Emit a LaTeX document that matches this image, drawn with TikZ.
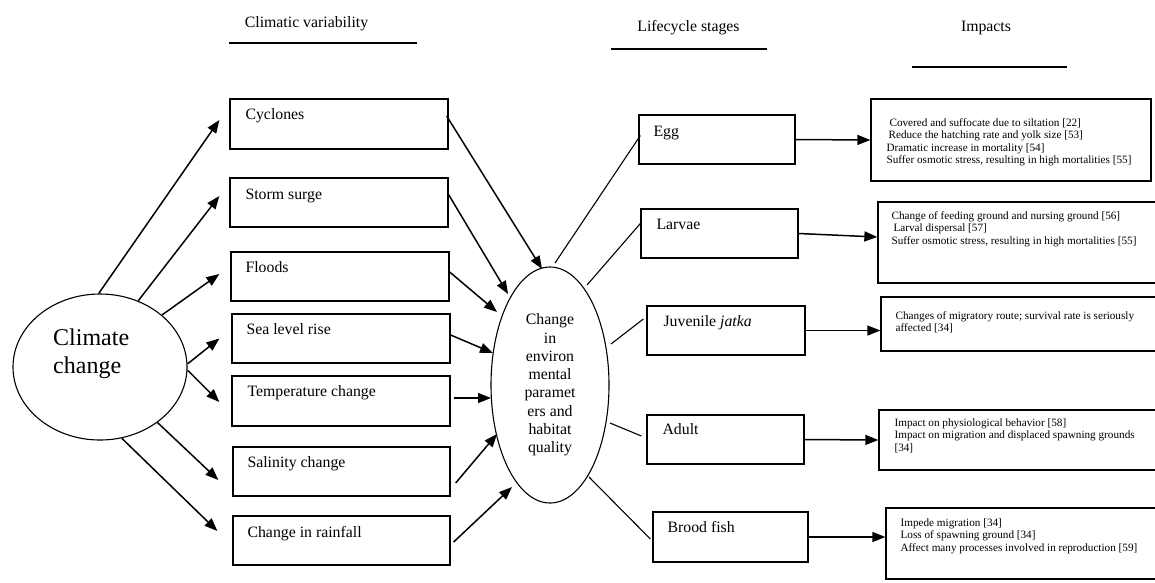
\documentclass[tikz,border=0pt]{standalone}
\usepackage{fontspec}
\setmainfont{Liberation Serif}
\usetikzlibrary{arrows.meta,shapes.geometric,calc}
\newcommand{\fsmain}{\fontsize{15.8}{18.3}\selectfont}
\newcommand{\fssmall}{\fontsize{11.2}{12.4}\selectfont}
\newcommand{\fsbig}{\fontsize{24}{27.5}\selectfont}
\begin{document}
\begin{tikzpicture}[x=1pt,y=-1pt,
  box/.style={draw, line width=1.3pt, inner sep=0pt, rectangle},
  btxt/.style={anchor=base west, inner sep=0pt, font=\fsmain},
  itxt/.style={anchor=north west, inner sep=0pt, font=\fssmall, align=left},
  arr/.style={line width=1.5pt, -{Triangle[length=13pt,width=10pt]}},
  conn/.style={line width=1.1pt},
  ttl/.style={font=\fsmain, inner sep=0pt},
  uline/.style={line width=1.3pt},
  oval/.style={draw, ellipse, line width=1.1pt, inner sep=0pt}]
\useasboundingbox (0,0) rectangle (1155,582);
\clip (0,0) rectangle (1155,582);

% titles
\node[ttl] (t1) at (306.5,24) {Climatic variability};
\node[ttl] (t2) at (688.5,28) {Lifecycle stages};
\node[ttl] (t3) at (986,28) {Impacts};
\draw[uline] (229,43) -- (417,43);
\draw[uline] (611,49) -- (767,49);
\draw[uline] (912,67) -- (1067,67);

% climate change
\node[oval, minimum width=174pt, minimum height=146pt] (cc) at (100,367) {};
\node[anchor=west, inner sep=0pt, font=\fsbig, align=left] (cct) at (53,354) {Climate\\change};

% climatic variability boxes
\node[box, minimum width=218pt, minimum height=50pt] (cyc) at (339,124) {};
\node[box, minimum width=218pt, minimum height=49pt] (storm) at (339,202.5) {};
\node[box, minimum width=218pt, minimum height=49pt] (flood) at (340,276.5) {};
\node[box, minimum width=218pt, minimum height=49pt] (sea) at (341,338.5) {};
\node[box, minimum width=218pt, minimum height=50pt] (temp) at (341,401) {};
\node[box, minimum width=217pt, minimum height=49pt] (sal) at (341.5,471.5) {};
\node[box, minimum width=217pt, minimum height=49pt] (rain) at (341.5,540.5) {};
\node[btxt] (cyct) at ($(cyc.north west)+(16,21.5)$) {Cyclones};
\node[btxt] (stormt) at ($(storm.north west)+(16,22)$) {Storm surge};
\node[btxt] (floodt) at ($(flood.north west)+(15,21.5)$) {Floods};
\node[btxt] (seat) at ($(sea.north west)+(15,21.5)$) {Sea level rise};
\node[btxt] (tempt) at ($(temp.north west)+(16,21.5)$) {Temperature change};
\node[btxt] (salt) at ($(sal.north west)+(15,21.5)$) {Salinity change};
\node[btxt] (raint) at ($(rain.north west)+(15,22.5)$) {Change in rainfall};

% central ellipse
\node[oval, minimum width=118pt, minimum height=236pt, font=\fsmain, align=center] (env) at (550,385)
  {Change\\in\\environ\\mental\\paramet\\ers and\\habitat\\quality};

% lifecycle boxes
\node[box, minimum width=156pt, minimum height=49pt] (egg) at (717,139.5) {};
\node[box, minimum width=157pt, minimum height=49pt] (larv) at (719.5,233.5) {};
\node[box, minimum width=158pt, minimum height=49pt] (juv) at (726,330.5) {};
\node[box, minimum width=157pt, minimum height=49pt] (adult) at (725.5,439.5) {};
\node[box, minimum width=155pt, minimum height=50pt] (brood) at (730.5,537) {};
\node[btxt] (eggt) at ($(egg.north west)+(15,22.5)$) {Egg};
\node[btxt] (larvt) at ($(larv.north west)+(16,21.5)$) {Larvae};
\node[btxt] (juvt) at ($(juv.north west)+(17,21.5)$) {Juvenile \textit{jatka}};
\node[btxt] (adultt) at ($(adult.north west)+(16,20.5)$) {Adult};
\node[btxt] (broodt) at ($(brood.north west)+(15,21.5)$) {Brood fish};

% impact boxes
\node[box, minimum width=280pt, minimum height=82pt] (imp1) at (1011,140) {};
\node[box, minimum width=282pt, minimum height=81pt] (imp2) at (1019,242.5) {};
\node[box, minimum width=279pt, minimum height=54pt] (imp3) at (1020.5,324) {};
\node[box, minimum width=281pt, minimum height=60pt] (imp4) at (1019.5,440) {};
\node[box, minimum width=274pt, minimum height=71pt] (imp5) at (1023,543.5) {};
\node[itxt] (imp1t) at ($(imp1.north west)+(16,20)$)
  {\hspace*{3pt}Covered and suffocate due to siltation [22]\\\hspace*{2pt}Reduce the hatching rate and yolk size [53]\\Dramatic increase in mortality [54]\\Suffer osmotic stress, resulting in high mortalities [55]};
\node[itxt] (imp2t) at ($(imp2.north west)+(14,10)$)
  {Change of feeding ground and nursing ground [56]\\\hspace*{2pt}Larval dispersal [57]\\Suffer osmotic stress, resulting in high mortalities [55]};
\node[itxt] (imp3t) at ($(imp3.north west)+(15,15)$)
  {Changes of migratory route; survival rate is seriously\\affected [34]};
\node[itxt] (imp4t) at ($(imp4.north west)+(16,9)$)
  {Impact on physiological behavior [58]\\Impact on migration and displaced spawning grounds\\{[34]}};
\node[itxt] (imp5t) at ($(imp5.north west)+(15,11)$)
  {Impede migration [34]\\Loss of spawning ground [34]\\Affect many processes involved in reproduction [59]};

% arrows from climate change
\draw[arr] (cc.91) -- ($(cyc.west)+(-10,-4)$);
\draw[arr] (cc.60) -- ($(storm.west)+(-10,-6.5)$);
\draw[arr] (cc.40) -- ($(flood.west)+(-11,-2.5)$);
\draw[arr] (cc.2) -- ($(sea.west)+(-12,0)$);
\draw[arr] (cc.-2) -- ($(temp.west)+(-12,1)$);
\draw[arr] (cc.-44) -- ($(sal.west)+(-14,8.5)$);
\draw[arr] (cc.-73) -- ($(rain.west)+(-15,-9.5)$);

% arrows into central ellipse
\draw[arr] ($(cyc.east)+(-2,-8)$) -- ($(env.center)+(-8,-116)$);
\draw[arr] ($(storm.east)+(-1,-9.5)$) -- ($(env.center)+(-42,-91)$);
\draw[arr] ($(flood.east)+(0,-4.5)$) -- ($(env.center)+(-53,-73)$);
\draw[arr] ($(sea.east)+(0,-3.5)$) -- ($(env.center)+(-57,-32)$);
\draw[arr] ($(temp.east)+(3,-3)$) -- ($(env.center)+(-59,13)$);
\draw[arr] ($(sal.east)+(5,11.5)$) -- ($(env.center)+(-53,49)$);
\draw[arr] ($(rain.east)+(3,1.5)$) -- ($(env.center)+(-38,102)$);

% lines to lifecycle stages
\draw[conn] ($(env.center)+(5,-122)$) -- ($(egg.west)+(2,-4)$);
\draw[conn] ($(env.center)+(37,-100)$) -- ($(larv.west)+(0,-10)$);
\draw[conn] ($(env.center)+(61,-41)$) -- ($(juv.west)+(-3,-11.5)$);
\draw[conn] ($(env.center)+(60,38)$) -- ($(adult.west)+(-5,-3.5)$);
\draw[conn] ($(env.center)+(39,92)$) -- ($(brood.west)+(-2,2)$);

% arrows to impacts
\draw[arr] (egg.east) -- (imp1.west);
\draw[arr] (larv.east) -- ($(imp2.west)+(0,-5.5)$);
\draw[arr] (juv.east) -- ($(imp3.west)+(0,6.5)$);
\draw[arr] (adult.east) -- (imp4.west);
\draw[arr] (brood.east) -- ($(imp5.west)+(0,-6.5)$);
\end{tikzpicture}
\end{document}
